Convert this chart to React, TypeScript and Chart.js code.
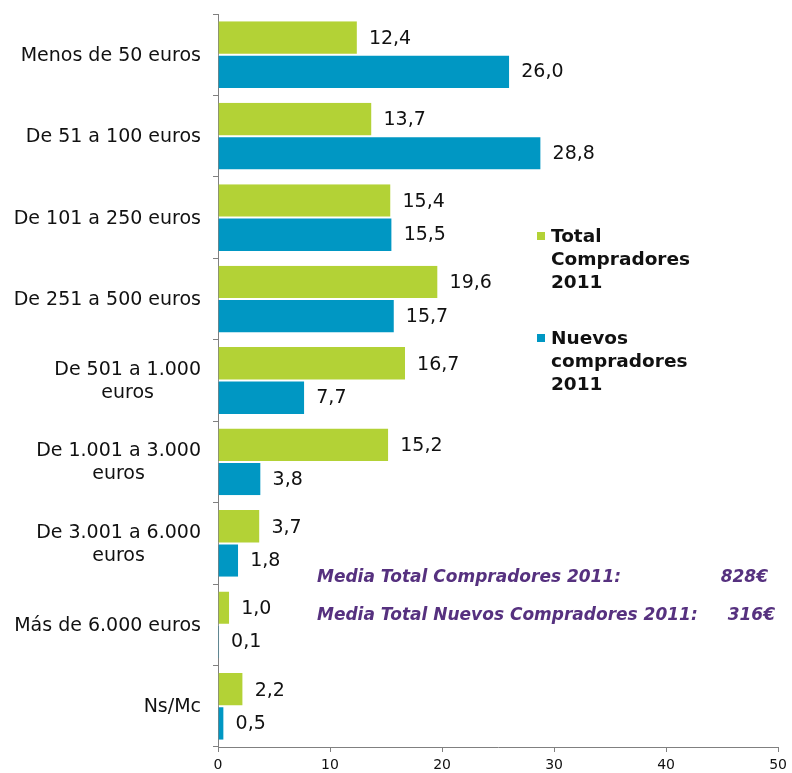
import React, { useEffect, useRef } from "react";
import { Chart, registerables } from "chart.js";

Chart.register(...registerables);

const categories: string[][] = [
  ["Menos de 50 euros"],
  ["De 51 a 100 euros"],
  ["De 101 a 250 euros"],
  ["De 251 a 500 euros"],
  ["De 501 a 1.000", "euros"],
  ["De 1.001 a 3.000", "euros"],
  ["De 3.001 a 6.000", "euros"],
  ["Más de 6.000 euros"],
  ["Ns/Mc"],
];
const totalCompradores = [12.4, 13.7, 15.4, 19.6, 16.7, 15.2, 3.7, 1.0, 2.2];
const nuevosCompradores = [26.0, 28.8, 15.5, 15.7, 7.7, 3.8, 1.8, 0.1, 0.5];
const legendTotal = ["Total", "Compradores", "2011"];
const legendNuevos = ["Nuevos", "compradores", "2011"];
const mediaLabels = ["Media Total Compradores 2011:", "Media Total Nuevos Compradores 2011:"];
const mediaValues = ["828€", "316€"];

const GREEN = "#b3d236";
const BLUE = "#0097c3";
const PURPLE = "#56317f";
const FONT = "'DejaVu Sans', Verdana, sans-serif";

const overlayPlugin = {
  id: "overlay",
  afterDatasetsDraw(chart: any) {
    const ctx = chart.ctx as CanvasRenderingContext2D;
    ctx.save();
    // data labels
    ctx.font = `19px ${FONT}`;
    ctx.fillStyle = "#111";
    ctx.textBaseline = "middle";
    ctx.textAlign = "left";
    chart.data.datasets.forEach((ds: any, di: number) => {
      const meta = chart.getDatasetMeta(di);
      meta.data.forEach((el: any, i: number) => {
        const v = ds.data[i] as number;
        ctx.fillText(v.toFixed(1).replace(".", ","), el.x + 12, el.y + 1);
      });
    });
    // y labels
    const yScale = chart.scales.y;
    const rightEdge = 201;
    const lh = 23;
    categories.forEach((lines, i) => {
      const cy = yScale.getPixelForValue(i);
      let maxW = 0;
      lines.forEach((l) => (maxW = Math.max(maxW, ctx.measureText(l).width)));
      const cx = rightEdge - maxW / 2;
      ctx.textAlign = "center";
      lines.forEach((l, k) => {
        const y = cy + (k - (lines.length - 1) / 2) * lh + 1;
        ctx.fillText(l, cx, y);
      });
    });
    // legend
    ctx.textAlign = "left";
    ctx.font = `bold 18.5px ${FONT}`;
    const drawLegend = (lines: string[], color: string, top: number) => {
      ctx.fillStyle = color;
      ctx.fillRect(537, top - 4, 8, 8);
      ctx.fillStyle = "#111";
      lines.forEach((l, k) => ctx.fillText(l, 551, top + k * 23.3 + 1));
    };
    drawLegend(legendTotal, GREEN, 236);
    drawLegend(legendNuevos, BLUE, 338);
    // media texts
    ctx.font = `italic bold 17px ${FONT}`;
    ctx.fillStyle = PURPLE;
    ctx.textAlign = "left";
    ctx.fillText(mediaLabels[0], 317, 578);
    ctx.fillText(mediaLabels[1], 317, 616);
    ctx.textAlign = "right";
    ctx.fillText(mediaValues[0], 768, 578);
    ctx.fillText(mediaValues[1], 775, 616);
    ctx.restore();
  },
};

export default function App() {
  const ref = useRef<HTMLCanvasElement>(null);
  useEffect(() => {
    document.body.style.margin = "0";
    const chart = new Chart(ref.current!, {
      type: "bar",
      data: {
        labels: categories.map((c) => c.join(" ")),
        datasets: [
          {
            label: legendTotal.join(" "),
            data: totalCompradores,
            backgroundColor: GREEN,
            borderColor: "#ffffff",
            borderWidth: { top: 0, bottom: 1, left: 0, right: 0 } as any,
            borderSkipped: false,
            categoryPercentage: 0.82,
            barPercentage: 1,
          },
          {
            label: legendNuevos.join(" "),
            data: nuevosCompradores,
            backgroundColor: BLUE,
            borderColor: "#ffffff",
            borderWidth: { top: 1, bottom: 0, left: 0, right: 0 } as any,
            borderSkipped: false,
            categoryPercentage: 0.82,
            barPercentage: 1,
          },
        ],
      },
      options: {
        indexAxis: "y",
        animation: false,
        responsive: true,
        maintainAspectRatio: false,
        layout: { padding: { top: 14, right: 12, left: 0, bottom: 0 } },
        plugins: { legend: { display: false }, tooltip: { enabled: false } },
        scales: {
          x: {
            min: 0,
            max: 50,
            ticks: { stepSize: 10, color: "#111", font: { family: FONT, size: 14 }, padding: 5 },
            grid: { drawOnChartArea: false, tickLength: 5, color: "#808080" },
            border: { color: "#808080" },
            afterFit: (s: any) => {
              s.height = 26;
            },
          },
          y: {
            ticks: { display: false },
            grid: { drawOnChartArea: false, tickLength: 5, color: "#808080", offset: true },
            border: { color: "#808080" },
            afterFit: (s: any) => {
              s.width = 218;
            },
          },
        },
      },
      plugins: [overlayPlugin],
    });
    return () => chart.destroy();
  }, []);
  return (
    <div style={{ position: "absolute", left: 0, top: 0, width: 792, height: 773 }}>
      <canvas ref={ref} />
    </div>
  );
}
